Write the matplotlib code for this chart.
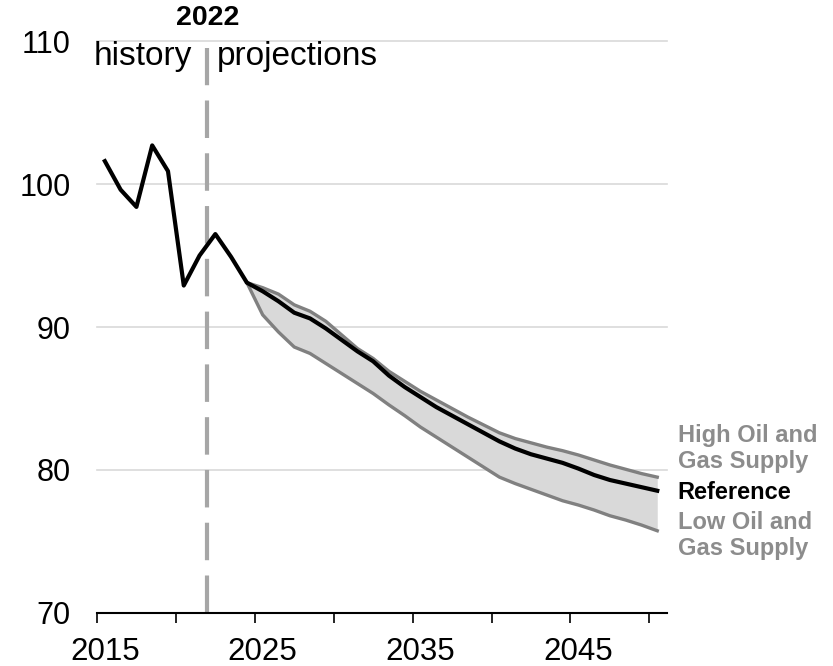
import matplotlib
matplotlib.use("Agg")
import matplotlib.pyplot as plt

plt.rcParams['font.family'] = ['Liberation Sans', 'DejaVu Sans']
plt.rcParams['lines.scale_dashes'] = False

# history (2015-2024)
hist_years = list(range(2015, 2025))
hist_vals = [101.6, 99.6, 98.4, 102.7, 100.9, 92.9, 95.0, 96.5, 94.9, 93.1]

# projections (2024-2050)
proj_years = list(range(2024, 2051))
reference = [93.1, 92.5, 91.8, 91.0, 90.6, 89.9, 89.1, 88.3, 87.6, 86.6, 85.8,
             85.1, 84.4, 83.8, 83.2, 82.6, 82.0, 81.5, 81.1, 80.8, 80.5,
             80.1, 79.65, 79.3, 79.05, 78.8, 78.55]
high_supply = [93.1, 92.75, 92.3, 91.55, 91.1, 90.4, 89.45, 88.5, 87.8, 86.9, 86.2,
               85.5, 84.9, 84.3, 83.7, 83.15, 82.6, 82.2, 81.9, 81.6, 81.35,
               81.05, 80.7, 80.35, 80.05, 79.75, 79.5]
low_supply = [93.1, 90.85, 89.65, 88.6, 88.15, 87.45, 86.75, 86.05, 85.35, 84.55, 83.8,
              83.0, 82.3, 81.6, 80.9, 80.2, 79.5, 79.05, 78.65, 78.25, 77.85,
              77.55, 77.2, 76.8, 76.5, 76.15, 75.75]

# tick marks sit on year boundaries, labels on year centres
tick_pos = [2014.5, 2019.5, 2024.5, 2029.5, 2034.5, 2039.5, 2044.5, 2049.5]
label_years = [2015, 2025, 2035, 2045]

fig = plt.figure(figsize=(8.33, 6.66), dpi=100)
ax = fig.add_axes([0.1164, 0.0796, 0.684, 0.8588])

ax.set_xlim(2014.5, 2050.6)
ax.set_ylim(70, 110)

# grid
for v in [80, 90, 100, 110]:
    ax.axhline(v, color='#d9d9d9', lw=1.2, zorder=0, clip_on=False)

# shaded range between cases
ax.fill_between(proj_years, low_supply, high_supply, color='#d9d9d9', lw=0, zorder=1)
ax.plot(proj_years, high_supply, color='#808080', lw=2.4, zorder=2, solid_joinstyle='round')
ax.plot(proj_years, low_supply, color='#808080', lw=2.4, zorder=2, solid_joinstyle='round')
ax.plot(hist_years + proj_years[1:], hist_vals + reference[1:], color='black', lw=3,
        zorder=3, solid_joinstyle='round')

# 2022 divider
ax.plot([2021.5, 2021.5], [70, 109.5], color='#a6a6a6', lw=3, dashes=(27, 11),
        clip_on=False, zorder=1)
ax.text(2021.5, 111.6, '2022', ha='center', va='center', fontsize=20.5, fontweight='bold')
ax.text(2020.5, 108.9, 'history', ha='right', va='center', fontsize=24)
ax.text(2022.1, 108.9, 'projections', ha='left', va='center', fontsize=24)

# case labels
ax.text(2051.3, 81.5, 'High Oil and\nGas Supply', ha='left', va='center', fontsize=17,
        fontweight='bold', color='#8c8c8c', linespacing=1.15, clip_on=False)
ax.text(2051.3, 78.45, 'Reference', ha='left', va='center', fontsize=17,
        fontweight='bold', color='black', clip_on=False)
ax.text(2051.3, 75.4, 'Low Oil and\nGas Supply', ha='left', va='center', fontsize=17,
        fontweight='bold', color='#8c8c8c', linespacing=1.15, clip_on=False)

# axes styling
for s in ['top', 'right', 'left']:
    ax.spines[s].set_visible(False)
ax.spines['bottom'].set_linewidth(1.5)
ax.set_xticks(tick_pos)
ax.set_xticklabels([])
ax.set_xticks(label_years, minor=True)
ax.set_xticklabels([str(y) for y in label_years], minor=True)
ax.tick_params(axis='x', which='major', direction='out', length=7, width=1.2)
ax.tick_params(axis='x', which='minor', length=0, labelsize=22.5, pad=17)
ax.set_yticks([70, 80, 90, 100, 110])
ax.tick_params(axis='y', length=0, labelsize=22, pad=19)

fig.savefig('out.png', dpi=100)
